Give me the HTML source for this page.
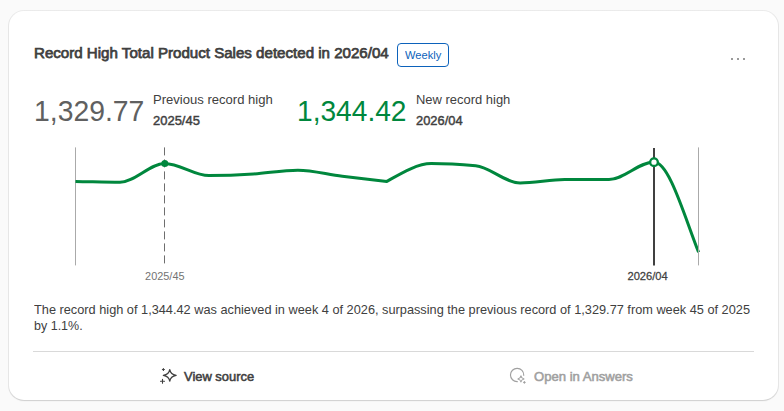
<!DOCTYPE html>
<html lang="en">
<head>
<meta charset="utf-8">
<title>Record High Total Product Sales</title>
<style>
  html, body { margin: 0; padding: 0; }
  body {
    width: 784px; height: 411px; overflow: hidden; position: relative;
    background: #fafafa;
    font-family: "Liberation Sans", sans-serif;
    color: #404040;
  }
  .card {
    position: absolute; left: 8px; top: 10px; width: 771px; height: 391px;
    border-radius: 16px;
    background: linear-gradient(to bottom, #ebebeb 0, #e6e6e6 16px, #e6e6e6 375px, #d3d3d3 390px, #d3d3d3 100%);
    box-shadow: 0 1px 0 rgba(0,0,0,0.02);
  }
  .card::after {
    content: ""; position: absolute; left: 1px; top: 1px; right: 1px; bottom: 1px;
    border-radius: 15px; background: #fff;
  }
  .t { position: absolute; white-space: nowrap; line-height: 1; transform-origin: 0 50%; margin: 0; }
  .title { left: 34.3px; top: 45px; font-size: 15.3px; font-weight: 400; -webkit-text-stroke: 0.75px #404040; color: #404040; }
  .badge {
    position: absolute; left: 397px; top: 43px; width: 50px; height: 22px;
    border: 1px solid #0c62bb; border-radius: 4px; background: #fff;
  }
  .badge-t { left: 405.2px; top: 50px; font-size: 11.5px; color: #0c62bb; }
  .dots i { position: absolute; top: 58px; width: 2px; height: 2px; background: #9a9a9a; display: block; }
  .big { font-size: 29.4px; top: 96px; }
  .big1 { left: 33.6px; color: #606060; }
  .big2 { left: 296.8px; color: #00873d; }
  .lbl { font-size: 13.2px; top: 93px; color: #404040; }
  .sub { font-size: 13.2px; top: 114px; font-weight: 400; -webkit-text-stroke: 0.45px #404040; color: #404040; }
  .para { font-size: 13.2px; color: #404040; left: 34px; }
  .divider { position: absolute; left: 33px; top: 351px; width: 721px; height: 1px; background: #d9d9d9; }
  .btn-t { font-size: 13.2px; font-weight: 400; -webkit-text-stroke: 0.55px; top: 370.3px; }
  svg { position: absolute; overflow: visible; }
</style>
</head>
<body>
<div class="card"></div>

<h1 class="t title" style="transform:scaleX(0.987)">Record High Total Product Sales detected in 2026/04</h1>
<div class="badge"></div>
<span class="t badge-t" style="transform:scaleX(0.966)">Weekly</span>
<div class="dots"><i style="left:731px"></i><i style="left:737px"></i><i style="left:743px"></i></div>

<div class="t big big1" style="transform:scaleX(0.964)">1,329.77</div>
<div class="t lbl" style="left:153.2px;transform:scaleX(0.99)">Previous record high</div>
<div class="t sub" style="left:152.5px;transform:scaleX(0.983)">2025/45</div>

<div class="t big big2" style="transform:scaleX(0.957)">1,344.42</div>
<div class="t lbl" style="left:416px;transform:scaleX(0.982)">New record high</div>
<div class="t sub" style="left:415.9px;transform:scaleX(0.977)">2026/04</div>

<svg id="chart" width="784" height="411" viewBox="0 0 784 411" style="left:0;top:0">
  <line x1="75.5" y1="147.4" x2="75.5" y2="265.4" stroke="#aaaaaa" stroke-width="1"/>
  <line x1="164.5" y1="147.4" x2="164.5" y2="265.4" stroke="#6e6e6e" stroke-width="1" stroke-dasharray="8 4"/>
  <line x1="654" y1="148" x2="654" y2="265.5" stroke="#404040" stroke-width="2"/>
  <path id="curve" fill="none" stroke="#00873d" stroke-width="3" stroke-linejoin="round"
    d="M75.5,181.4 C90,181.6 105,182.2 120,182.2 C135,182.2 150,163.4 164.5,163.4 C180,163.4 194,175.5 209,175.5 C224,175.5 238,175 253.4,174 C268,173 283,170.2 297.9,170.2 C313,170.2 327,174.5 342.3,176.3 L386.8,181.4 C400,174 417,163.6 431.2,163.6 C446,163.6 461,164.5 475.7,165.8 C490,167 505,182.9 520.1,182.9 C535,182.9 550,179.5 564.6,179.5 L609,179.5 C624,179.5 639,162 654,162 C669,162 684,215 698.6,252.3"/>
  <line x1="698.5" y1="147.4" x2="698.5" y2="265.4" stroke="#aaaaaa" stroke-width="1"/>
  <circle cx="164.8" cy="163.5" r="3.5" fill="#00873d"/>
  <circle cx="654" cy="162.2" r="3.85" fill="#fff" stroke="#00873d" stroke-width="2.4"/>
  <text x="0" y="0" transform="translate(164.8 280) scale(0.95 1)" text-anchor="middle" font-size="11.5" fill="#737373" font-family="Liberation Sans, sans-serif">2025/45</text>
  <text x="0" y="0" transform="translate(647.6 280) scale(0.971 1)" text-anchor="middle" font-size="11.5" stroke="#404040" stroke-width="0.25" fill="#404040" font-family="Liberation Sans, sans-serif">2026/04</text>
</svg>

<p class="t para" style="top:303px;transform:scaleX(0.967)">The record high of 1,344.42 was achieved in week 4 of 2026, surpassing the previous record of 1,329.77 from week 45 of 2025</p>
<p class="t para" style="top:319.1px;transform:scaleX(0.948)">by 1.1%.</p>

<div class="divider"></div>

<svg width="16" height="16" viewBox="0 0 16 16" style="left:160px;top:368px" fill="none" stroke="#404040" stroke-width="1.3" stroke-linejoin="round" stroke-linecap="round">
  <path d="M9.75,1.55 C10.20,4.25 12.85,6.80 16.15,7.35 C12.85,7.90 10.20,10.45 9.75,13.15 C9.30,10.45 6.65,7.90 3.35,7.35 C6.65,6.80 9.30,4.25 9.75,1.55 Z"/>
  <path d="M3.4,0.6 V2.4 M2.4,1.5 H4.4" stroke-width="1.15"/>
  <path d="M2.5,11.3 V15.3 M0.5,13.3 H4.5" stroke-width="1.1"/>
</svg>
<span class="t btn-t" style="left:184.2px;color:#404040;transform:scaleX(0.98)">View source</span>

<svg width="16" height="16" viewBox="0 0 16 16" style="left:510px;top:368px" fill="none" stroke="#a0a0a0" stroke-width="1.15" stroke-linejoin="round" stroke-linecap="round">
  <path d="M13.75,7.3 A6.65,6.65 0 1 0 7.3,13.65"/>
  <path d="M10.95,7.80 C11.20,9.20 12.65,10.65 14.05,10.90 C12.65,11.15 11.20,12.60 10.95,14.00 C10.70,12.60 9.25,11.15 7.85,10.90 C9.25,10.65 10.70,9.20 10.95,7.80 Z" stroke-width="1.05"/>
  <path d="M14.4,13.5 V15.3 M13.5,14.4 H15.3" stroke-width="1"/>
</svg>
<span class="t btn-t" style="left:534px;color:#a0a0a0;transform:scaleX(0.992)">Open in Answers</span>

</body>
</html>
